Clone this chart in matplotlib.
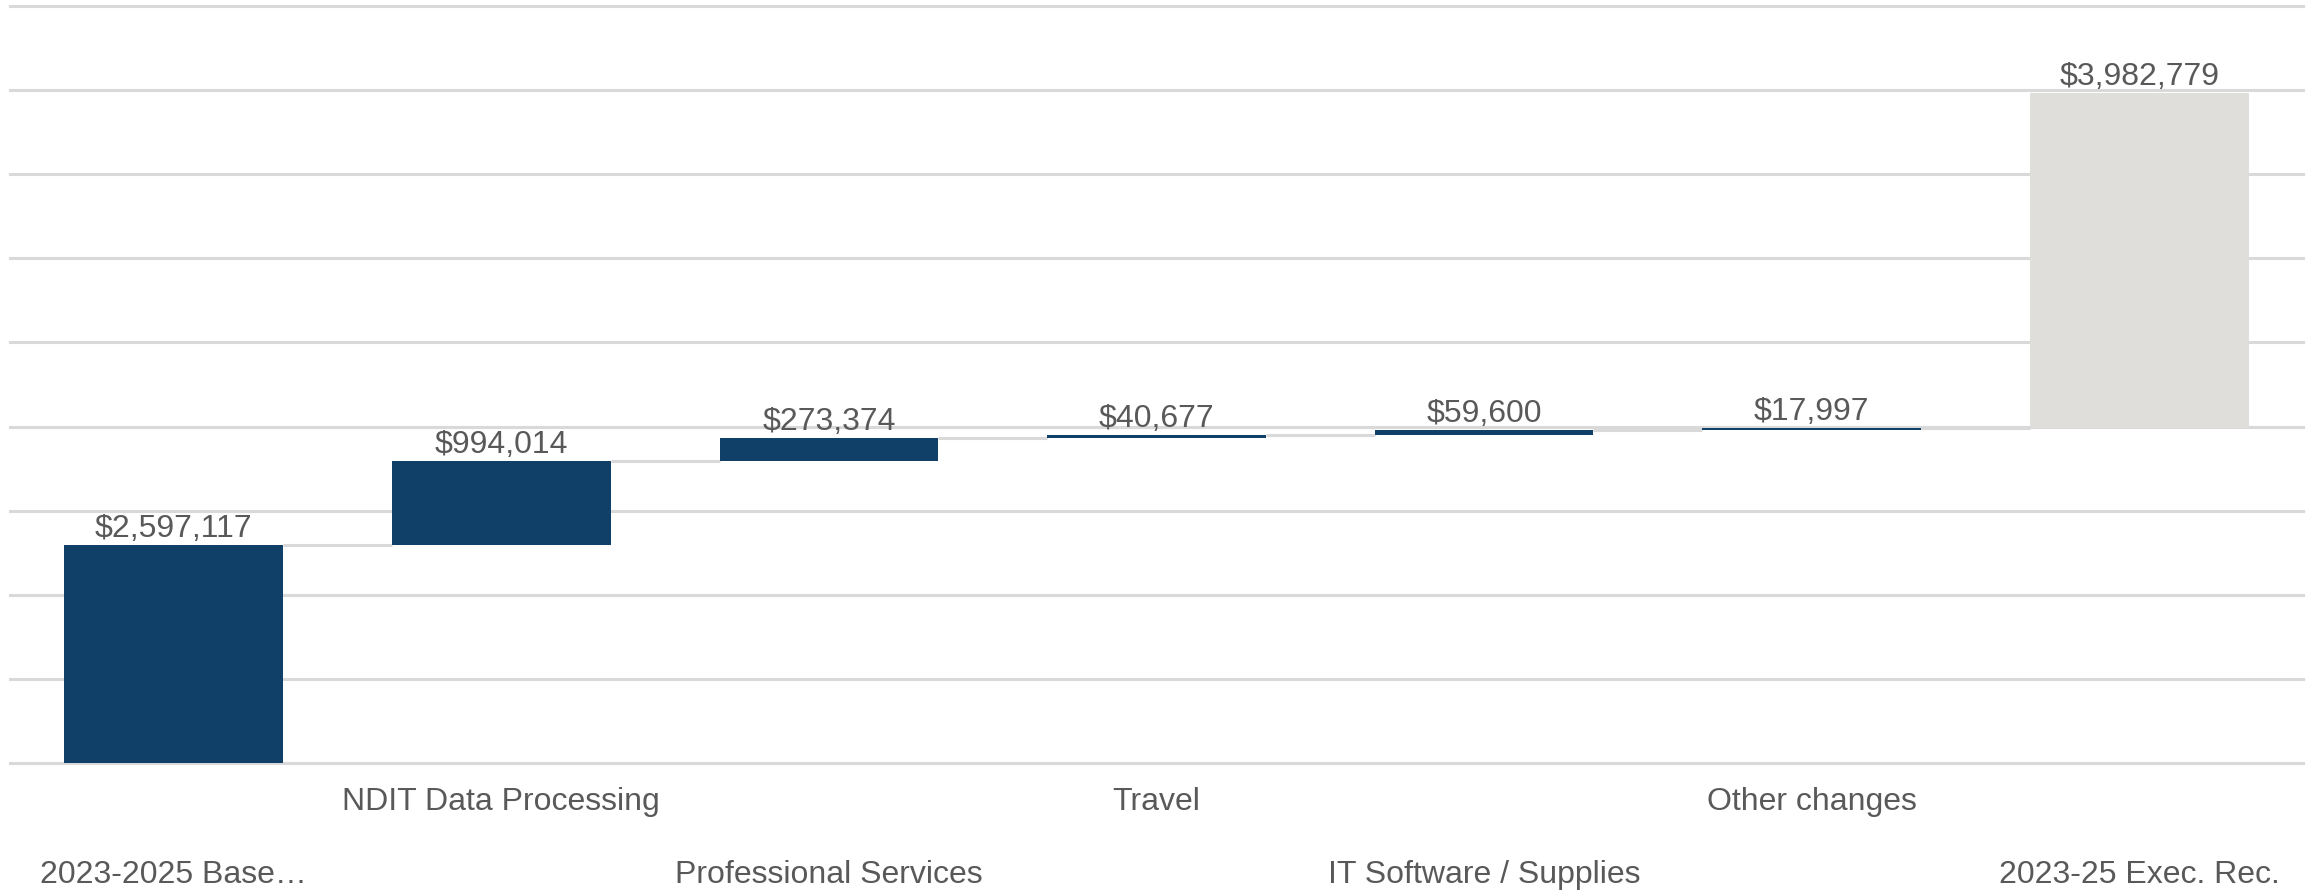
import numpy as np
import matplotlib.pyplot as plt

# Waterfall data
categories = ["2023-2025 Base\u2026", "NDIT Data Processing", "Professional Services",
              "Travel", "IT Software / Supplies", "Other changes", "2023-25 Exec. Rec."]
changes = [2597117, 994014, 273374, 40677, 59600, 17997]
total = 3982779

plt.rcParams['font.family'] = ['Liberation Sans', 'DejaVu Sans']
text_color = "#595959"
bar_color = "#103F68"
total_color = "#E0DEDA"
grid_color = "#D9D9D9"

fig = plt.figure(figsize=(23.13, 8.92), dpi=100)
ax = fig.add_axes([0.0043, 0.1446, 0.9914, 0.8487])

x = np.arange(len(categories))
width = 0.667

# step bars
cum = np.cumsum([0] + changes)
bottoms = list(cum[:-1])
heights = list(changes)
# total bar sits on top of the running sum (as in the source chart)
bottoms.append(cum[-1])
heights.append(total)
colors = [bar_color] * len(changes) + [total_color]

ax.bar(x, heights, bottom=bottoms, width=width, color=colors, zorder=3)

# connector lines between bars
for i in range(len(categories) - 1):
    level = cum[i + 1]
    ax.plot([x[i] + width / 2, x[i + 1] - width / 2], [level, level],
            color=grid_color, lw=2.2, zorder=2, solid_capstyle="butt")

# value labels
values = changes + [total]
for xi, b, h, v in zip(x, bottoms, heights, values):
    ax.annotate(f"${v:,.0f}", (xi, b + h), xytext=(0, 0.5), textcoords="offset points",
                ha="center", va="bottom", fontsize=23, color=text_color)

ax.set_xlim(-0.5, len(categories) - 0.5)
ax.set_ylim(0, 9000000)
ax.set_yticks(np.arange(0, 9000001, 1000000))
ax.yaxis.grid(True, color=grid_color, lw=2.2)
for gl in ax.get_ygridlines():
    gl.set_clip_on(False)
ax.set_axisbelow(True)
ax.tick_params(left=False, labelleft=False, bottom=False, labelbottom=False)
for s in ax.spines.values():
    s.set_visible(False)

# two-row category labels
for i, name in enumerate(categories):
    y_off = -0.051 if i % 2 == 1 else -0.148
    ax.text(x[i], y_off, name, transform=ax.get_xaxis_transform(),
            ha="center", va="center", fontsize=23, color=text_color)

fig.savefig("out.png", dpi=100)
